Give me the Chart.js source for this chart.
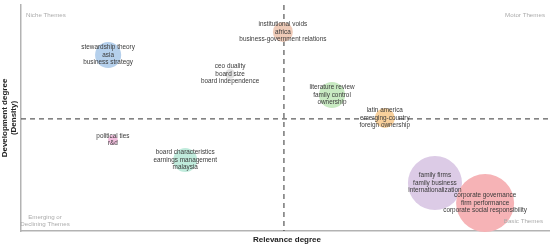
<!DOCTYPE html>
<html>
<head>
<meta charset="utf-8">
<script src="https://cdn.jsdelivr.net/npm/chart.js@4.4.1/dist/chart.umd.min.js"></script>
<style>
  html, body { margin: 0; padding: 0; background: #ffffff; }
  #wrap { width: 550px; height: 246px; position: relative; }
</style>
</head>
<body>
<div id="wrap"><canvas id="themeMap"></canvas></div>
<script>
// cluster labels (top three keywords of each theme)
const themeLabels = [
    ['stewardship theory', 'asia', 'business strategy'],
    ['institutional voids', 'africa', 'business-government relations'],
    ['ceo duality', 'board size', 'board independence'],
    ['literature review', 'family control', 'ownership'],
    ['latin america', 'emerging-country', 'foreign ownership'],
    ['political ties', 'r&d'],
    ['board characteristics', 'earnings management', 'malaysia'],
    ['family firms', 'family business', 'internationalization'],
    ['corporate governance', 'firm performance', 'corporate social responsibility']
];
// relevance degree (centrality), development degree (density), cluster frequency
const relevance   = [0.165, 0.496, 0.396, 0.589, 0.689, 0.174, 0.311, 0.784, 0.879];
const development = [0.779, 0.881, 0.695, 0.602, 0.500, 0.403, 0.314, 0.212, 0.124];
const frequency   = [85, 50, 12, 85, 50, 12, 72, 365, 420];
const themeColors = ['#b5d0ec', '#efcbb8', '#e2e2e2', '#c8eac2', '#f8d09c',
                     '#f3c0df', '#c0ebdc', '#dccbe6', '#f6b3b6'];
const medianRelevance = 0.498;
const medianDevelopment = 0.496;
const quadrantNames = {
    niche: ['Niche Themes'],
    motor: ['Motor Themes'],
    emerging: ['Emerging or', 'Declining Themes'],
    basic: ['Basic Themes']
};

const bubbleData = relevance.map((x, i) => ({
    x: x,
    y: development[i],
    r: Math.sqrt(frequency[i]) * 1.415
}));

const mapDecor = {
    id: 'mapDecor',
    beforeDatasetsDraw(chart) {
        const { ctx, chartArea: a, scales } = chart;
        const mx = scales.x.getPixelForValue(medianRelevance);
        const my = scales.y.getPixelForValue(medianDevelopment);
        ctx.save();
        ctx.strokeStyle = '#333333';
        ctx.lineWidth = 1;
        ctx.setLineDash([5, 4]);
        ctx.beginPath();
        ctx.moveTo(mx, a.top);
        ctx.lineTo(mx, a.bottom);
        ctx.moveTo(a.left, my);
        ctx.lineTo(a.right, my);
        ctx.stroke();
        ctx.restore();
    },
    afterDatasetsDraw(chart) {
        const { ctx, chartArea: a, scales } = chart;
        ctx.save();
        // bubble labels
        ctx.fillStyle = '#3a3a3a';
        ctx.font = '6.4px "Liberation Sans", Arial, sans-serif';
        ctx.textAlign = 'center';
        ctx.textBaseline = 'middle';
        const lh = 7.5;
        themeLabels.forEach((lines, i) => {
            const cx = scales.x.getPixelForValue(relevance[i]);
            const cy = scales.y.getPixelForValue(development[i]);
            const y0 = cy - (lines.length - 1) * lh / 2;
            lines.forEach((t, k) => ctx.fillText(t, cx, y0 + k * lh));
        });

        // quadrant names
        ctx.fillStyle = '#ababab';
        ctx.font = '6.2px "Liberation Sans", Arial, sans-serif';
        ctx.textAlign = 'left';
        ctx.fillText(quadrantNames.niche[0], a.left + 5, 15);
        ctx.textAlign = 'right';
        ctx.fillText(quadrantNames.motor[0], a.right - 4, 15);
        ctx.fillText(quadrantNames.basic[0], a.right - 6, 221);
        ctx.textAlign = 'center';
        ctx.fillText(quadrantNames.emerging[0], a.left + 24, 217);
        ctx.fillText(quadrantNames.emerging[1], a.left + 24, 224.5);

        // axis titles
        ctx.fillStyle = '#222222';
        ctx.font = 'bold 8px "Liberation Sans", Arial, sans-serif';
        ctx.fillText('Relevance degree', (a.left + a.right) / 2 + 2, 240);
        ctx.translate(8, (a.top + a.bottom) / 2);
        ctx.rotate(-Math.PI / 2);
        ctx.fillText('Development degree', 0, -3);
        ctx.fillText('(Density)', 0, 6);
        ctx.restore();
    }
};

new Chart(document.getElementById('themeMap').getContext('2d'), {
    type: 'bubble',
    data: {
        datasets: [{
            data: bubbleData,
            backgroundColor: themeColors,
            borderWidth: 0,
            hoverBorderWidth: 0,
            clip: false
        }]
    },
    options: {
        responsive: true,
        maintainAspectRatio: false,
        animation: false,
        layout: { autoPadding: false, padding: { left: 21, top: 5, right: 1, bottom: 15 } },
        scales: {
            x: {
                min: 0, max: 1,
                ticks: { display: false, padding: 0 },
                grid: { display: false, drawTicks: false },
                border: { color: '#b3b3b3', width: 1.5 }
            },
            y: {
                min: 0, max: 1,
                ticks: { display: false, padding: 0 },
                grid: { display: false, drawTicks: false },
                border: { color: '#b3b3b3', width: 1.5 }
            }
        },
        plugins: {
            legend: { display: false },
            tooltip: { enabled: false }
        }
    },
    plugins: [mapDecor]
});
</script>
</body>
</html>
